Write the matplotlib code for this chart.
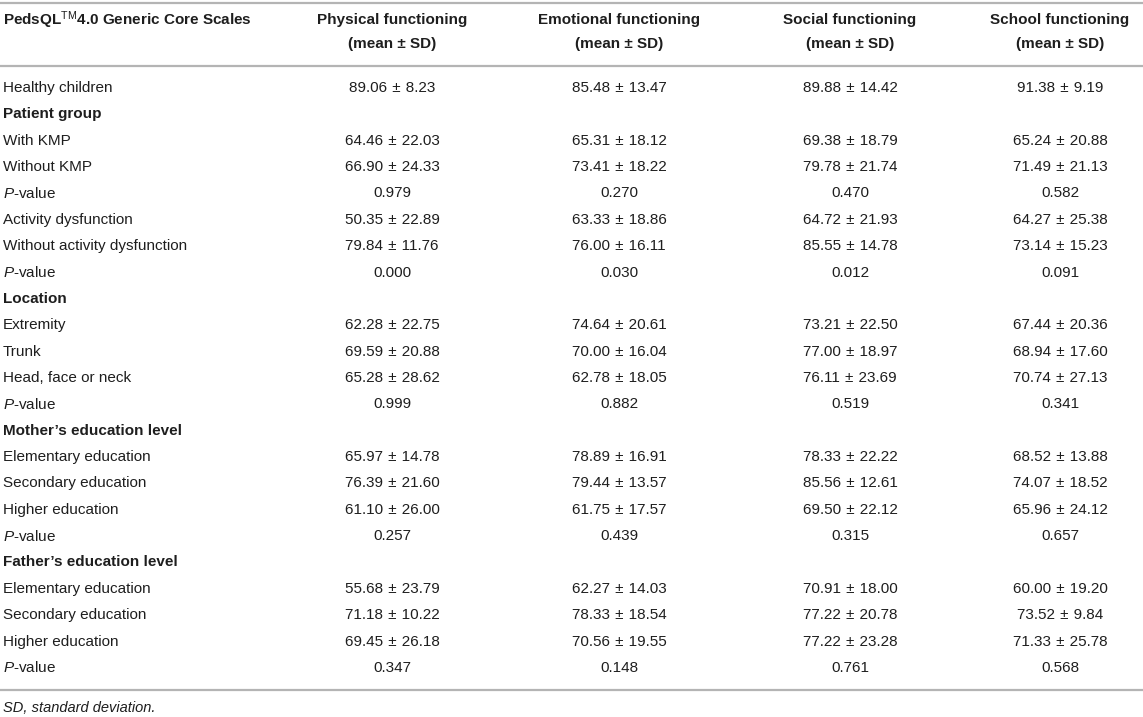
import matplotlib.pyplot as plt

plt.rcParams["font.family"] = ["Liberation Sans", "DejaVu Sans"]
plt.rcParams["mathtext.fontset"] = "custom"
plt.rcParams["mathtext.rm"] = "Liberation Sans"
plt.rcParams["mathtext.bf"] = "Liberation Sans:bold"
plt.rcParams["mathtext.it"] = "Liberation Sans:italic"

# Table data
col_titles = ["Physical functioning", "Emotional functioning",
              "Social functioning", "School functioning"]

row_labels = [
    "Healthy children", "Patient group", "With KMP", "Without KMP", "P-value",
    "Activity dysfunction", "Without activity dysfunction", "P-value",
    "Location", "Extremity", "Trunk", "Head, face or neck", "P-value",
    "Mother\u2019s education level", "Elementary education", "Secondary education",
    "Higher education", "P-value",
    "Father\u2019s education level", "Elementary education", "Secondary education",
    "Higher education", "P-value",
]
section_rows = [1, 8, 13, 18]

physical = ["89.06 ± 8.23", "", "64.46 ± 22.03", "66.90 ± 24.33", "0.979",
            "50.35 ± 22.89", "79.84 ± 11.76", "0.000", "",
            "62.28 ± 22.75", "69.59 ± 20.88", "65.28 ± 28.62", "0.999", "",
            "65.97 ± 14.78", "76.39 ± 21.60", "61.10 ± 26.00", "0.257", "",
            "55.68 ± 23.79", "71.18 ± 10.22", "69.45 ± 26.18", "0.347"]
emotional = ["85.48 ± 13.47", "", "65.31 ± 18.12", "73.41 ± 18.22", "0.270",
             "63.33 ± 18.86", "76.00 ± 16.11", "0.030", "",
             "74.64 ± 20.61", "70.00 ± 16.04", "62.78 ± 18.05", "0.882", "",
             "78.89 ± 16.91", "79.44 ± 13.57", "61.75 ± 17.57", "0.439", "",
             "62.27 ± 14.03", "78.33 ± 18.54", "70.56 ± 19.55", "0.148"]
social = ["89.88 ± 14.42", "", "69.38 ± 18.79", "79.78 ± 21.74", "0.470",
          "64.72 ± 21.93", "85.55 ± 14.78", "0.012", "",
          "73.21 ± 22.50", "77.00 ± 18.97", "76.11 ± 23.69", "0.519", "",
          "78.33 ± 22.22", "85.56 ± 12.61", "69.50 ± 22.12", "0.315", "",
          "70.91 ± 18.00", "77.22 ± 20.78", "77.22 ± 23.28", "0.761"]
school = ["91.38 ± 9.19", "", "65.24 ± 20.88", "71.49 ± 21.13", "0.582",
          "64.27 ± 25.38", "73.14 ± 15.23", "0.091", "",
          "67.44 ± 20.36", "68.94 ± 17.60", "70.74 ± 27.13", "0.341", "",
          "68.52 ± 13.88", "74.07 ± 18.52", "65.96 ± 24.12", "0.657", "",
          "60.00 ± 19.20", "73.52 ± 9.84", "71.33 ± 25.78", "0.568"]
columns = [physical, emotional, social, school]

# Layout in pixel units
W, H = 1143, 717
col_x = [392, 619, 850, 1060]
row_y0, row_dy = 88, 26.36
txt = "#1e1e1e"
line_c = "#b4b4b4"
fs = 11


def pm(s):
    # slightly wider gaps around the plus-minus sign
    return s.replace(" ± ", "\u2004±\u2004")


fig = plt.figure(figsize=(W / 100, H / 100), dpi=100)
ax = fig.add_axes([0, 0, 1, 1])
ax.set_xlim(0, W)
ax.set_ylim(H, 0)
ax.axis("off")

# rules
for y in [3, 65.5, 690]:
    ax.plot([0, W], [y, y], color=line_c, lw=1.6, solid_capstyle="butt")

# header
ax.text(3, 20, r"PedsQL$^{\mathrm{TM}}$4.0 Generic Core Scales", fontsize=fs,
        fontweight="bold", color=txt, va="center", ha="left")
for x, t in zip(col_x, col_titles):
    ax.text(x, 20, t, fontsize=fs, fontweight="bold", color=txt, ha="center", va="center")
    ax.text(x, 44, "(mean ± SD)", fontsize=fs, fontweight="bold", color=txt,
            ha="center", va="center")

# body
for i, lab in enumerate(row_labels):
    y = row_y0 + i * row_dy
    if i in section_rows:
        ax.text(3, y, lab, fontsize=fs, fontweight="bold", color=txt, va="center")
    elif lab == "P-value":
        ax.text(3, y, r"$\mathit{P}$-value", fontsize=fs, color=txt, va="center")
    else:
        ax.text(3, y, lab, fontsize=fs, color=txt, va="center")
    for x, col in zip(col_x, columns):
        if col[i]:
            ax.text(x, y, pm(col[i]), fontsize=fs, color=txt, ha="center", va="center")

ax.text(3, 708, "SD, standard deviation.", fontsize=fs - 0.5, style="italic",
        color=txt, va="center")

plt.savefig("out.png", dpi=100)
